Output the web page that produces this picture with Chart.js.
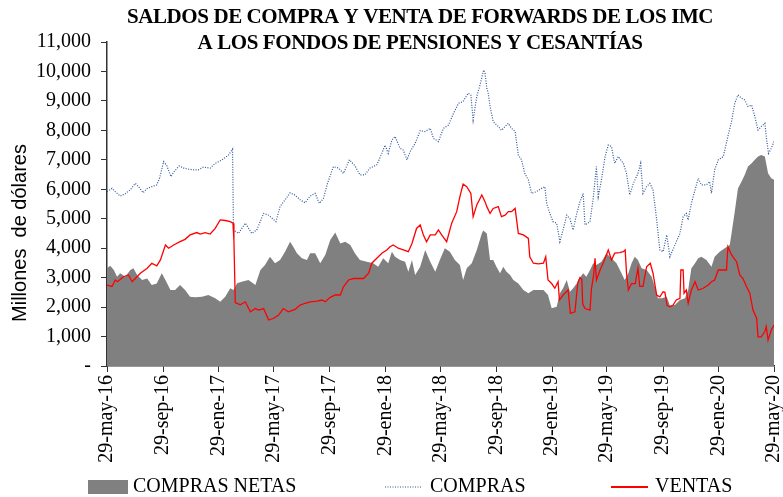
<!DOCTYPE html>
<html><head><meta charset="utf-8">
<script src="https://cdn.jsdelivr.net/npm/chart.js@4.4.1/dist/chart.umd.min.js"></script>
<style>html,body{margin:0;padding:0;background:#fff}canvas{display:block}</style>
</head><body>
<canvas id="c" width="783" height="497"></canvas>
<script>
const titleLines = ['SALDOS DE COMPRA Y VENTA DE FORWARDS DE LOS IMC', 'A LOS FONDOS DE PENSIONES Y CESANTÍAS'];
const yAxisTitle = 'Millones  de dólares';
const seriesNames = ['COMPRAS NETAS', 'COMPRAS', 'VENTAS'];
const tickDates = ['2016-05-29','2016-09-29','2017-01-29','2017-05-29','2017-09-29','2018-01-29','2018-05-29','2018-09-29','2019-01-29','2019-05-29','2019-09-29','2020-01-29','2020-05-29'];
const tickLabels = ['29-may-16','29-sep-16','29-ene-17','29-may-17','29-sep-17','29-ene-18','29-may-18','29-sep-18','29-ene-19','29-may-19','29-sep-19','29-ene-20','29-may-20'];

const comprasNetas = [
['2016-05-29',3320],['2016-06-05',3400],['2016-06-13',3260],['2016-06-20',3030],['2016-06-27',3150],['2016-07-08',3030],['2016-07-19',3260],['2016-07-26',3320],['2016-08-03',3090],['2016-08-14',2920],['2016-08-25',2970],['2016-09-04',2750],['2016-09-15',2800],['2016-09-26',3150],['2016-10-04',2920],['2016-10-15',2580],['2016-10-25',2580],['2016-11-05',2750],['2016-11-16',2580],['2016-11-27',2350],['2016-12-08',2330],['2016-12-23',2350],['2017-01-06',2410],['2017-01-21',2300],['2017-02-01',2180],['2017-02-12',2350],['2017-02-23',2640],['2017-03-02',2580],['2017-03-10',2810],['2017-03-20',2860],['2017-04-04',2920],['2017-04-19',2750],['2017-04-30',3260],['2017-05-10',3430],['2017-05-21',3710],['2017-06-01',3490],['2017-06-12',3600],['2017-06-23',3880],['2017-07-04',4220],['2017-07-11',4050],['2017-07-19',3830],['2017-07-30',3660],['2017-08-10',3600],['2017-08-17',3830],['2017-08-28',3830],['2017-09-08',3490],['2017-09-19',3770],['2017-09-30',4280],['2017-10-11',4530],['2017-10-22',4160],['2017-11-02',4220],['2017-11-13',4110],['2017-11-23',3830],['2017-12-04',3600],['2017-12-19',3540],['2018-01-02',3490],['2018-01-13',3370],['2018-01-24',3660],['2018-02-04',3490],['2018-02-12',3880],['2018-02-19',3710],['2018-03-02',3600],['2018-03-13',3540],['2018-03-20',3200],['2018-03-28',3600],['2018-04-04',3090],['2018-04-15',3370],['2018-04-26',3940],['2018-05-07',3540],['2018-05-18',3200],['2018-05-28',3600],['2018-06-08',4000],['2018-06-19',3880],['2018-06-30',3600],['2018-07-11',3430],['2018-07-18',2920],['2018-07-26',3320],['2018-08-06',3490],['2018-08-17',3940],['2018-08-28',4500],['2018-08-31',4600],['2018-09-08',4500],['2018-09-15',3600],['2018-09-22',3600],['2018-09-29',3370],['2018-10-07',3150],['2018-10-14',3370],['2018-10-21',3200],['2018-10-29',3090],['2018-11-05',2920],['2018-11-16',2800],['2018-11-27',2580],['2018-12-08',2470],['2018-12-19',2580],['2018-12-30',2580],['2019-01-10',2580],['2019-01-20',2410],['2019-01-28',1960],['2019-02-08',2010],['2019-02-15',2470],['2019-02-22',2640],['2019-03-02',2920],['2019-03-09',2520],['2019-03-16',2640],['2019-03-24',2800],['2019-03-27',2920],['2019-04-07',3150],['2019-04-14',3030],['2019-04-22',3260],['2019-04-29',3490],['2019-05-06',3430],['2019-05-17',3540],['2019-05-28',3830],['2019-06-08',3660],['2019-06-19',3490],['2019-06-30',3150],['2019-07-07',2920],['2019-07-15',3150],['2019-07-22',3490],['2019-07-29',3710],['2019-08-05',3600],['2019-08-13',3320],['2019-08-24',3260],['2019-09-04',3030],['2019-09-11',2690],['2019-09-18',2300],['2019-09-26',2300],['2019-10-07',2350],['2019-10-14',2050],['2019-10-25',2070],['2019-11-05',2240],['2019-11-16',2300],['2019-11-23',2580],['2019-11-30',3320],['2019-12-08',3490],['2019-12-15',3660],['2019-12-22',3710],['2020-01-02',3600],['2020-01-13',3370],['2020-01-20',3710],['2020-01-31',3880],['2020-02-11',4000],['2020-02-22',4110],['2020-02-26',4500],['2020-03-04',5240],['2020-03-11',6030],['2020-03-19',6260],['2020-03-26',6490],['2020-04-02',6770],['2020-04-10',6880],['2020-04-17',7000],['2020-04-24',7110],['2020-05-01',7160],['2020-05-09',7110],['2020-05-16',6540],['2020-05-23',6370],['2020-05-29',6320]
];

const compras = [
['2016-05-29',5920],['2016-06-09',6030],['2016-06-16',5920],['2016-06-27',5770],['2016-07-08',5850],['2016-07-19',5980],['2016-07-30',6200],['2016-08-06',6090],['2016-08-16',5880],['2016-08-25',6030],['2016-09-04',6090],['2016-09-15',6150],['2016-09-21',6370],['2016-09-30',6940],['2016-10-07',6800],['2016-10-16',6430],['2016-10-23',6600],['2016-11-03',6790],['2016-11-13',6720],['2016-11-24',6680],['2016-12-05',6660],['2016-12-15',6660],['2016-12-26',6750],['2017-01-10',6720],['2017-01-21',6880],['2017-02-05',7000],['2017-02-19',7160],['2017-02-28',7360],['2017-03-02',4620],['2017-03-13',4500],['2017-03-28',4850],['2017-04-11',4500],['2017-04-22',4620],['2017-05-07',5180],['2017-05-18',5120],['2017-06-03',4900],['2017-06-12',5410],['2017-06-23',5640],['2017-07-04',5880],['2017-07-15',5800],['2017-07-26',5640],['2017-08-06',5540],['2017-08-17',5770],['2017-08-28',5860],['2017-09-06',5520],['2017-09-15',5690],['2017-09-24',6200],['2017-10-07',6770],['2017-10-18',6720],['2017-10-29',6540],['2017-11-11',7000],['2017-11-23',6800],['2017-12-04',6490],['2017-12-15',6490],['2017-12-26',6720],['2018-01-10',6830],['2018-01-21',7220],['2018-01-28',7500],['2018-02-04',7220],['2018-02-12',7670],['2018-02-19',7790],['2018-03-02',7390],['2018-03-09',7330],['2018-03-17',7000],['2018-03-24',7280],['2018-04-04',7560],['2018-04-15',7990],['2018-04-26',7960],['2018-05-07',8070],['2018-05-14',7730],['2018-05-25',7620],['2018-06-05',8070],['2018-06-16',8180],['2018-06-27',8580],['2018-07-08',8920],['2018-07-18',8980],['2018-07-29',9260],['2018-08-04',9200],['2018-08-09',8350],['2018-08-17',9150],['2018-08-24',9540],['2018-09-01',10050],['2018-09-04',9940],['2018-09-08',9430],['2018-09-11',9260],['2018-09-15',8810],['2018-09-22',8300],['2018-10-03',8130],['2018-10-10',8000],['2018-10-18',8130],['2018-10-25',8240],['2018-11-01',8070],['2018-11-09',7960],['2018-11-16',7160],['2018-11-23',7000],['2018-11-30',6540],['2018-12-08',6320],['2018-12-15',5860],['2018-12-26',5920],['2019-01-06',6030],['2019-01-13',6090],['2019-01-17',5520],['2019-01-24',5180],['2019-01-31',4900],['2019-02-08',4850],['2019-02-15',4220],['2019-02-22',4620],['2019-03-02',5120],['2019-03-09',5000],['2019-03-16',4620],['2019-03-24',5180],['2019-03-31',5580],['2019-04-07',5860],['2019-04-11',4790],['2019-04-22',4900],['2019-04-29',5690],['2019-05-06',6770],['2019-05-10',5750],['2019-05-17',6320],['2019-05-25',7110],['2019-06-01',7500],['2019-06-08',7450],['2019-06-15',6880],['2019-06-23',7110],['2019-07-04',6880],['2019-07-11',6540],['2019-07-18',5810],['2019-07-26',6200],['2019-08-05',6540],['2019-08-11',6880],['2019-08-16',5860],['2019-08-24',6090],['2019-08-31',6200],['2019-09-07',5980],['2019-09-15',4960],['2019-09-22',3940],['2019-09-29',3880],['2019-10-07',4450],['2019-10-14',3710],['2019-10-25',4110],['2019-10-28',4220],['2019-11-05',4500],['2019-11-12',5070],['2019-11-19',5180],['2019-11-23',4960],['2019-11-30',5520],['2019-12-08',5980],['2019-12-15',6370],['2019-12-22',6150],['2020-01-02',6150],['2020-01-09',6260],['2020-01-13',5860],['2020-01-20',6660],['2020-01-28',7000],['2020-02-08',7110],['2020-02-18',7790],['2020-02-26',8300],['2020-03-04',8920],['2020-03-11',9200],['2020-03-19',9090],['2020-03-26',9030],['2020-04-02',8810],['2020-04-10',8860],['2020-04-17',8470],['2020-04-24',8010],['2020-05-01',8130],['2020-05-09',8240],['2020-05-12',7790],['2020-05-17',7220],['2020-05-23',7390],['2020-05-29',7620]
];

const ventas = [
['2016-05-29',2750],['2016-06-09',2700],['2016-06-16',2920],['2016-06-21',2860],['2016-07-04',3030],['2016-07-15',3090],['2016-07-23',2860],['2016-07-30',2970],['2016-08-10',3150],['2016-08-25',3320],['2016-09-04',3490],['2016-09-15',3400],['2016-09-23',3600],['2016-10-04',4110],['2016-10-11',4000],['2016-10-22',4110],['2016-11-05',4220],['2016-11-16',4300],['2016-11-27',4450],['2016-12-12',4530],['2016-12-19',4480],['2016-12-30',4530],['2017-01-10',4480],['2017-01-21',4670],['2017-02-01',4960],['2017-02-12',4940],['2017-02-23',4900],['2017-03-01',4850],['2017-03-03',4250],['2017-03-06',2150],['2017-03-17',2080],['2017-03-28',2180],['2017-04-08',1840],['2017-04-19',1950],['2017-04-26',1900],['2017-05-07',1950],['2017-05-18',1560],['2017-05-29',1620],['2017-06-09',1730],['2017-06-19',1950],['2017-06-30',1840],['2017-07-15',1920],['2017-07-26',2070],['2017-08-06',2130],['2017-08-17',2180],['2017-09-01',2200],['2017-09-12',2240],['2017-09-19',2180],['2017-09-30',2330],['2017-10-11',2410],['2017-10-22',2410],['2017-10-29',2690],['2017-11-09',2920],['2017-11-20',2970],['2017-12-01',2970],['2017-12-12',2970],['2017-12-23',3150],['2017-12-30',3490],['2018-01-10',3660],['2018-01-21',3830],['2018-02-01',3940],['2018-02-08',4050],['2018-02-15',4110],['2018-02-26',4000],['2018-03-09',3940],['2018-03-20',3880],['2018-03-28',4160],['2018-04-07',4670],['2018-04-15',4790],['2018-04-22',4450],['2018-04-29',4220],['2018-05-07',4450],['2018-05-18',4450],['2018-05-25',4620],['2018-06-01',4450],['2018-06-12',4220],['2018-06-23',4850],['2018-07-04',5240],['2018-07-11',5750],['2018-07-18',6180],['2018-07-26',6090],['2018-08-04',5860],['2018-08-09',5070],['2018-08-17',5470],['2018-08-28',5810],['2018-09-04',5580],['2018-09-08',5410],['2018-09-15',5180],['2018-09-22',5350],['2018-10-03',5410],['2018-10-10',5070],['2018-10-18',5120],['2018-10-25',5240],['2018-11-01',5240],['2018-11-09',5350],['2018-11-16',4500],['2018-11-27',4450],['2018-12-08',4330],['2018-12-11',3710],['2018-12-19',3490],['2018-12-30',3470],['2019-01-10',3490],['2019-01-15',3710],['2019-01-20',2920],['2019-01-28',2800],['2019-02-04',2640],['2019-02-11',2860],['2019-02-14',2240],['2019-02-22',2410],['2019-03-05',2580],['2019-03-10',1790],['2019-03-20',1840],['2019-03-26',2800],['2019-03-31',3000],['2019-04-04',2950],['2019-04-06',2100],['2019-04-11',1950],['2019-04-22',1900],['2019-04-25',2600],['2019-04-30',3100],['2019-05-03',3660],['2019-05-06',2920],['2019-05-14',3260],['2019-05-22',3540],['2019-06-01',3940],['2019-06-08',3600],['2019-06-15',3830],['2019-06-26',3850],['2019-07-04',3880],['2019-07-08',3940],['2019-07-11',3150],['2019-07-15',2580],['2019-07-22',2800],['2019-07-30',2800],['2019-08-05',3320],['2019-08-09',2700],['2019-08-16',2700],['2019-08-24',3370],['2019-09-01',3490],['2019-09-07',3150],['2019-09-15',2410],['2019-09-22',2350],['2019-09-29',2520],['2019-10-03',2500],['2019-10-08',2050],['2019-10-14',2010],['2019-10-21',2070],['2019-10-28',2240],['2019-11-05',2300],['2019-11-07',3260],['2019-11-12',3260],['2019-11-14',2470],['2019-11-19',2580],['2019-11-23',2130],['2019-11-30',2580],['2019-12-08',2860],['2019-12-15',2580],['2019-12-26',2640],['2020-01-06',2750],['2020-01-13',2860],['2020-01-20',2920],['2020-01-28',3260],['2020-02-08',3260],['2020-02-15',3260],['2020-02-18',4050],['2020-02-26',3770],['2020-03-08',3540],['2020-03-15',3090],['2020-03-22',2970],['2020-03-30',2690],['2020-04-06',2470],['2020-04-13',1900],['2020-04-21',1620],['2020-04-24',990],['2020-05-01',990],['2020-05-09',1170],['2020-05-12',1340],['2020-05-16',880],['2020-05-23',1220],['2020-05-29',1390]
];

const DAY0 = Date.UTC(2016, 4, 29);
function dayOf(s) { const p = s.split('-').map(Number); return Math.round((Date.UTC(p[0], p[1] - 1, p[2]) - DAY0) / 864e5); }
const toXY = arr => arr.map(([d, v]) => ({ x: dayOf(d), y: v }));
const tickDays = tickDates.map(dayOf);

const SERIF = '"Liberation Serif","Times New Roman",serif';
const GRAY = '#808080', BLUE = '#2e5596', RED = '#ff0000';
const BLUE_DASH = [1, 1.5];

const decor = {
  id: 'decor',
  afterDraw(chart) {
    const ctx = chart.ctx;
    ctx.save();
    ctx.fillStyle = '#000';
    ctx.textAlign = 'center';
    ctx.textBaseline = 'middle';
    ctx.font = 'bold 21px ' + SERIF;
    try { ctx.letterSpacing = '-0.4px'; } catch (e) {}
    ctx.fillText(titleLines[0], 420, 18);
    ctx.fillText(titleLines[1], 420, 44);
    try { ctx.letterSpacing = '0px'; } catch (e) {}
    ctx.save();
    ctx.translate(20, 233);
    ctx.rotate(-Math.PI / 2);
    ctx.font = '20px "Liberation Sans", Arial, sans-serif';
    ctx.fillText(yAxisTitle, 0, 0);
    ctx.restore();
    // legend
    const ly = 487;
    ctx.font = '20px ' + SERIF;
    ctx.textAlign = 'left';
    ctx.fillStyle = GRAY;
    ctx.fillRect(88, ly - 7, 40, 14);
    ctx.fillStyle = '#000';
    ctx.fillText(seriesNames[0], 133, ly);
    ctx.strokeStyle = BLUE; ctx.lineWidth = 1.2; ctx.setLineDash(BLUE_DASH);
    ctx.beginPath(); ctx.moveTo(385, ly); ctx.lineTo(422, ly); ctx.stroke();
    ctx.setLineDash([]);
    ctx.fillText(seriesNames[1], 430, ly);
    ctx.strokeStyle = RED; ctx.lineWidth = 2;
    ctx.beginPath(); ctx.moveTo(611, ly); ctx.lineTo(648, ly); ctx.stroke();
    ctx.fillText(seriesNames[2], 655, ly);
    ctx.restore();
  }
};

Chart.defaults.color = '#000';
Chart.defaults.font.family = SERIF;

new Chart(document.getElementById('c'), {
  type: 'line',
  data: {
    datasets: [
      { label: seriesNames[0], data: toXY(comprasNetas), fill: 'origin', backgroundColor: GRAY, borderColor: GRAY, borderWidth: 0, pointRadius: 0, order: 3 },
      { label: seriesNames[1], data: toXY(compras), fill: false, borderColor: BLUE, borderWidth: 1.2, borderDash: BLUE_DASH, pointRadius: 0, order: 2 },
      { label: seriesNames[2], data: toXY(ventas), fill: false, borderColor: RED, borderWidth: 1.3, pointRadius: 0, order: 1 }
    ]
  },
  options: {
    responsive: false,
    animation: false,
    devicePixelRatio: 1,
    layout: { padding: { left: 0, right: 9, top: 42, bottom: 31 } },
    plugins: { legend: { display: false }, tooltip: { enabled: false } },
    scales: {
      x: {
        type: 'linear',
        min: 0, max: dayOf(tickDates[tickDates.length - 1]),
        afterBuildTicks: s => { s.ticks = tickDays.map(v => ({ value: v })); },
        afterFit: s => { s.height = 100; s.paddingLeft = 0; s.paddingRight = 0; },
        ticks: {
          autoSkip: false, minRotation: 90, maxRotation: 90, padding: 3,
          font: { size: 20, family: SERIF },
          callback: v => { const i = tickDays.indexOf(v); return i >= 0 ? tickLabels[i] : ''; }
        },
        grid: { drawOnChartArea: false, drawTicks: true, tickLength: 6, color: '#333' },
        border: { display: true, color: '#333', width: 1.5 }
      },
      y: {
        min: 0, max: 11000,
        afterFit: s => { s.width = 107; },
        ticks: {
          stepSize: 1000, padding: 10,
          font: { size: 20, family: SERIF },
          callback: v => v === 0 ? '-' : v.toLocaleString('en-US')
        },
        grid: { drawOnChartArea: false, drawTicks: true, tickLength: 6, color: '#333' },
        border: { display: true, color: '#333', width: 1.5 }
      }
    }
  },
  plugins: [decor]
});
</script>
</body></html>
